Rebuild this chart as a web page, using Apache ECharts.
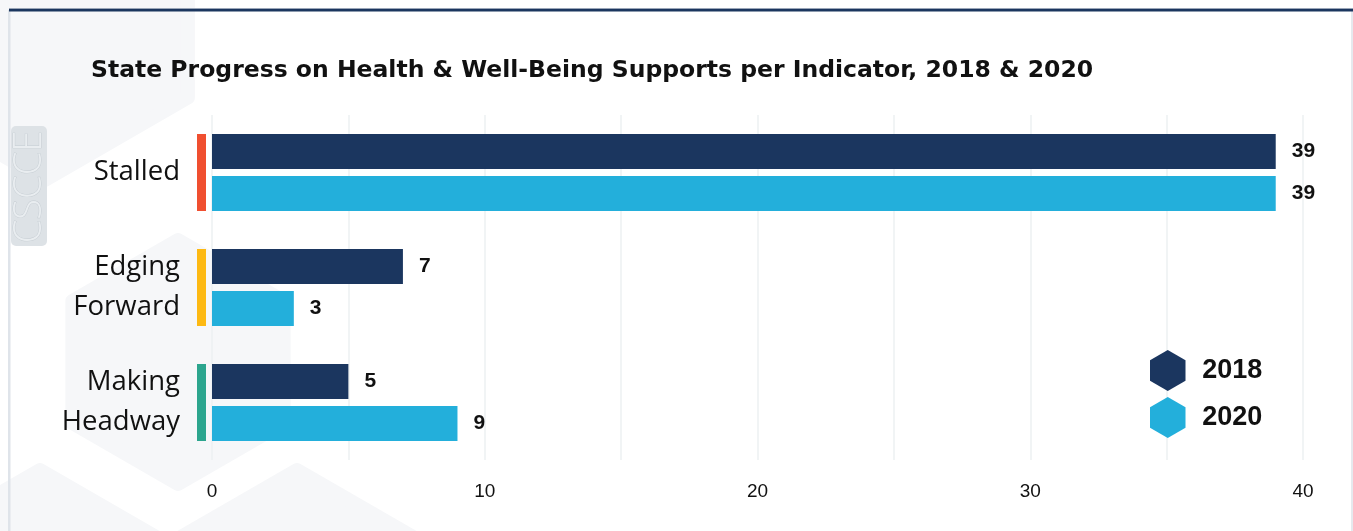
<!DOCTYPE html>
<html>
<head>
<meta charset="utf-8">
<script src="https://cdn.jsdelivr.net/npm/echarts@6/dist/echarts.min.js"></script>
<style>
  html, body { margin: 0; padding: 0; background: #ffffff; }
  #chart { width: 1353px; height: 531px; }
</style>
</head>
<body>
<div id="chart"></div>
<script>
// Indicator categories (top to bottom) and their status colours
const categories = ['Stalled', 'Edging\nForward', 'Making\nHeadway'];
const indicatorColors = ['#F04F30', '#FDB913', '#2CA58E'];

// Number of states per indicator
const values2018 = [39, 7, 5];
const values2020 = [39, 3, 9];

// Axis ticks
const xTicks = [0, 10, 20, 30, 40];

const seriesNames = ['2018', '2020'];
const seriesColors = ['#1B365F', '#23AFDB'];

const hexPath = 'path://M50,0 L93.3,25 L93.3,75 L50,100 L6.7,75 L6.7,25 Z';

// Pointy-top hexagon polygon points for faint background decoration
function hexPoints(cx, cy, r) {
  const pts = [];
  for (let i = 0; i < 6; i++) {
    const a = Math.PI / 180 * (60 * i - 90);
    pts.push([cx + r * Math.cos(a), cy + r * Math.sin(a)]);
  }
  return pts;
}
const bgFill = '#f6f7f9';
const backgroundShapes = [
  { cx: 45, cy: 15, r: 165 },
  { cx: 178, cy: 362, r: 122 },
  { cx: 40, cy: 620, r: 150 },
  { cx: 297, cy: 620, r: 150 }
].map(h => ({
  type: 'polygon',
  silent: true,
  z: -10,
  shape: { points: hexPoints(h.cx, h.cy, h.r), smooth: 0 },
  style: { fill: bgFill, lineJoin: 'round', stroke: bgFill, lineWidth: 14 }
}));

const chart = echarts.init(document.getElementById('chart'), null, { renderer: 'canvas' });

const labelStyle = {
  show: true,
  position: 'right',
  distance: 16,
  color: '#111111',
  fontSize: 21,
  fontWeight: 'bold',
  fontFamily: 'Liberation Sans, Arial, sans-serif'
};

chart.setOption({
  backgroundColor: '#ffffff',
  animation: false,
  title: {
    text: 'State Progress on Health & Well-Being Supports per Indicator, 2018 & 2020',
    left: 91,
    top: 59,
    padding: 0,
    textStyle: {
      color: '#111111',
      fontSize: 23.5,
      fontWeight: 'bold',
      fontFamily: '"DejaVu Sans", sans-serif'
    }
  },
  graphic: [
    ...backgroundShapes,
    // frame: left rule, top navy rule, right rule
    { type: 'rect', silent: true, z: -5, shape: { x: 8, y: 10, width: 2.5, height: 530 }, style: { fill: '#dfe4ea' } },
    { type: 'rect', silent: true, z: -5, shape: { x: 1351, y: 10, width: 2, height: 530 }, style: { fill: '#e6e9ee' } },
    { type: 'rect', silent: true, z: -4, shape: { x: 9, y: 8, width: 1344, height: 1.5 }, style: { fill: '#9aa6b8' } },
    { type: 'rect', silent: true, z: -4, shape: { x: 9, y: 9, width: 1344, height: 2.5 }, style: { fill: '#1B365F' } },
    // CSCCE badge
    {
      type: 'group',
      silent: true,
      z: -3,
      children: [
        { type: 'rect', shape: { x: 11, y: 126, width: 36, height: 120, r: 5 }, style: { fill: '#dde2e6' } },
        {
          type: 'text',
          x: 30, y: 187,
          rotation: Math.PI / 2,
          style: {
            text: 'CSCCE',
            fill: '#e9edf0',
            stroke: '#c6cdd3',
            lineWidth: 0.9,
            font: '300 38px "Open Sans", sans-serif',
            align: 'center',
            verticalAlign: 'middle'
          }
        }
      ]
    }
  ],
  legend: {
    data: seriesNames,
    orient: 'vertical',
    left: 1150,
    top: 350,
    padding: 0,
    itemWidth: 37,
    itemHeight: 41,
    itemGap: 6,
    icon: hexPath,
    selectedMode: false,
    textStyle: {
      color: '#111111',
      fontSize: 27,
      fontWeight: 'bold',
      fontFamily: 'Liberation Sans, Arial, sans-serif',
      padding: [0, 0, 0, 11]
    }
  },
  grid: {
    left: 212,
    right: 50,
    top: 115,
    bottom: 71,
    containLabel: false
  },
  xAxis: {
    type: 'value',
    min: 0,
    max: xTicks[xTicks.length - 1],
    interval: 5,
    axisLine: { show: false },
    axisTick: { show: false },
    splitLine: { show: true, lineStyle: { color: '#edf0f2', width: 1.5 } },
    axisLabel: {
      margin: 22,
      color: '#111111',
      fontSize: 19,
      fontFamily: '"Liberation Sans Narrow", "Liberation Sans", sans-serif',
      formatter: v => (xTicks.indexOf(v) >= 0 ? String(v) : '')
    }
  },
  yAxis: {
    type: 'category',
    inverse: true,
    data: categories,
    axisLine: { show: false },
    axisTick: { show: false },
    splitLine: { show: false },
    axisLabel: {
      margin: 32,
      color: '#111111',
      fontSize: 27.5,
      lineHeight: 40,
      align: 'right',
      fontFamily: '"Open Sans", "Noto Sans", sans-serif'
    }
  },
  series: [
    {
      name: seriesNames[0],
      type: 'bar',
      data: values2018,
      barWidth: 35,
      barGap: '20%',
      itemStyle: { color: seriesColors[0] },
      label: labelStyle
    },
    {
      name: seriesNames[1],
      type: 'bar',
      data: values2020,
      barWidth: 35,
      barGap: '20%',
      itemStyle: { color: seriesColors[1] },
      label: labelStyle
    },
    {
      // coloured status strip to the left of each indicator's bar pair
      name: 'status',
      type: 'custom',
      silent: true,
      encode: { x: 0, y: 1 },
      data: categories.map((c, i) => ({ value: [0, i], itemStyle: { color: indicatorColors[i] } })),
      renderItem: function (params, api) {
        const pt = api.coord([0, api.value(1)]);
        return {
          type: 'rect',
          shape: { x: pt[0] - 15, y: pt[1] - 38.5, width: 9, height: 77 },
          style: { fill: api.visual('color') }
        };
      }
    }
  ]
});
</script>
</body>
</html>
